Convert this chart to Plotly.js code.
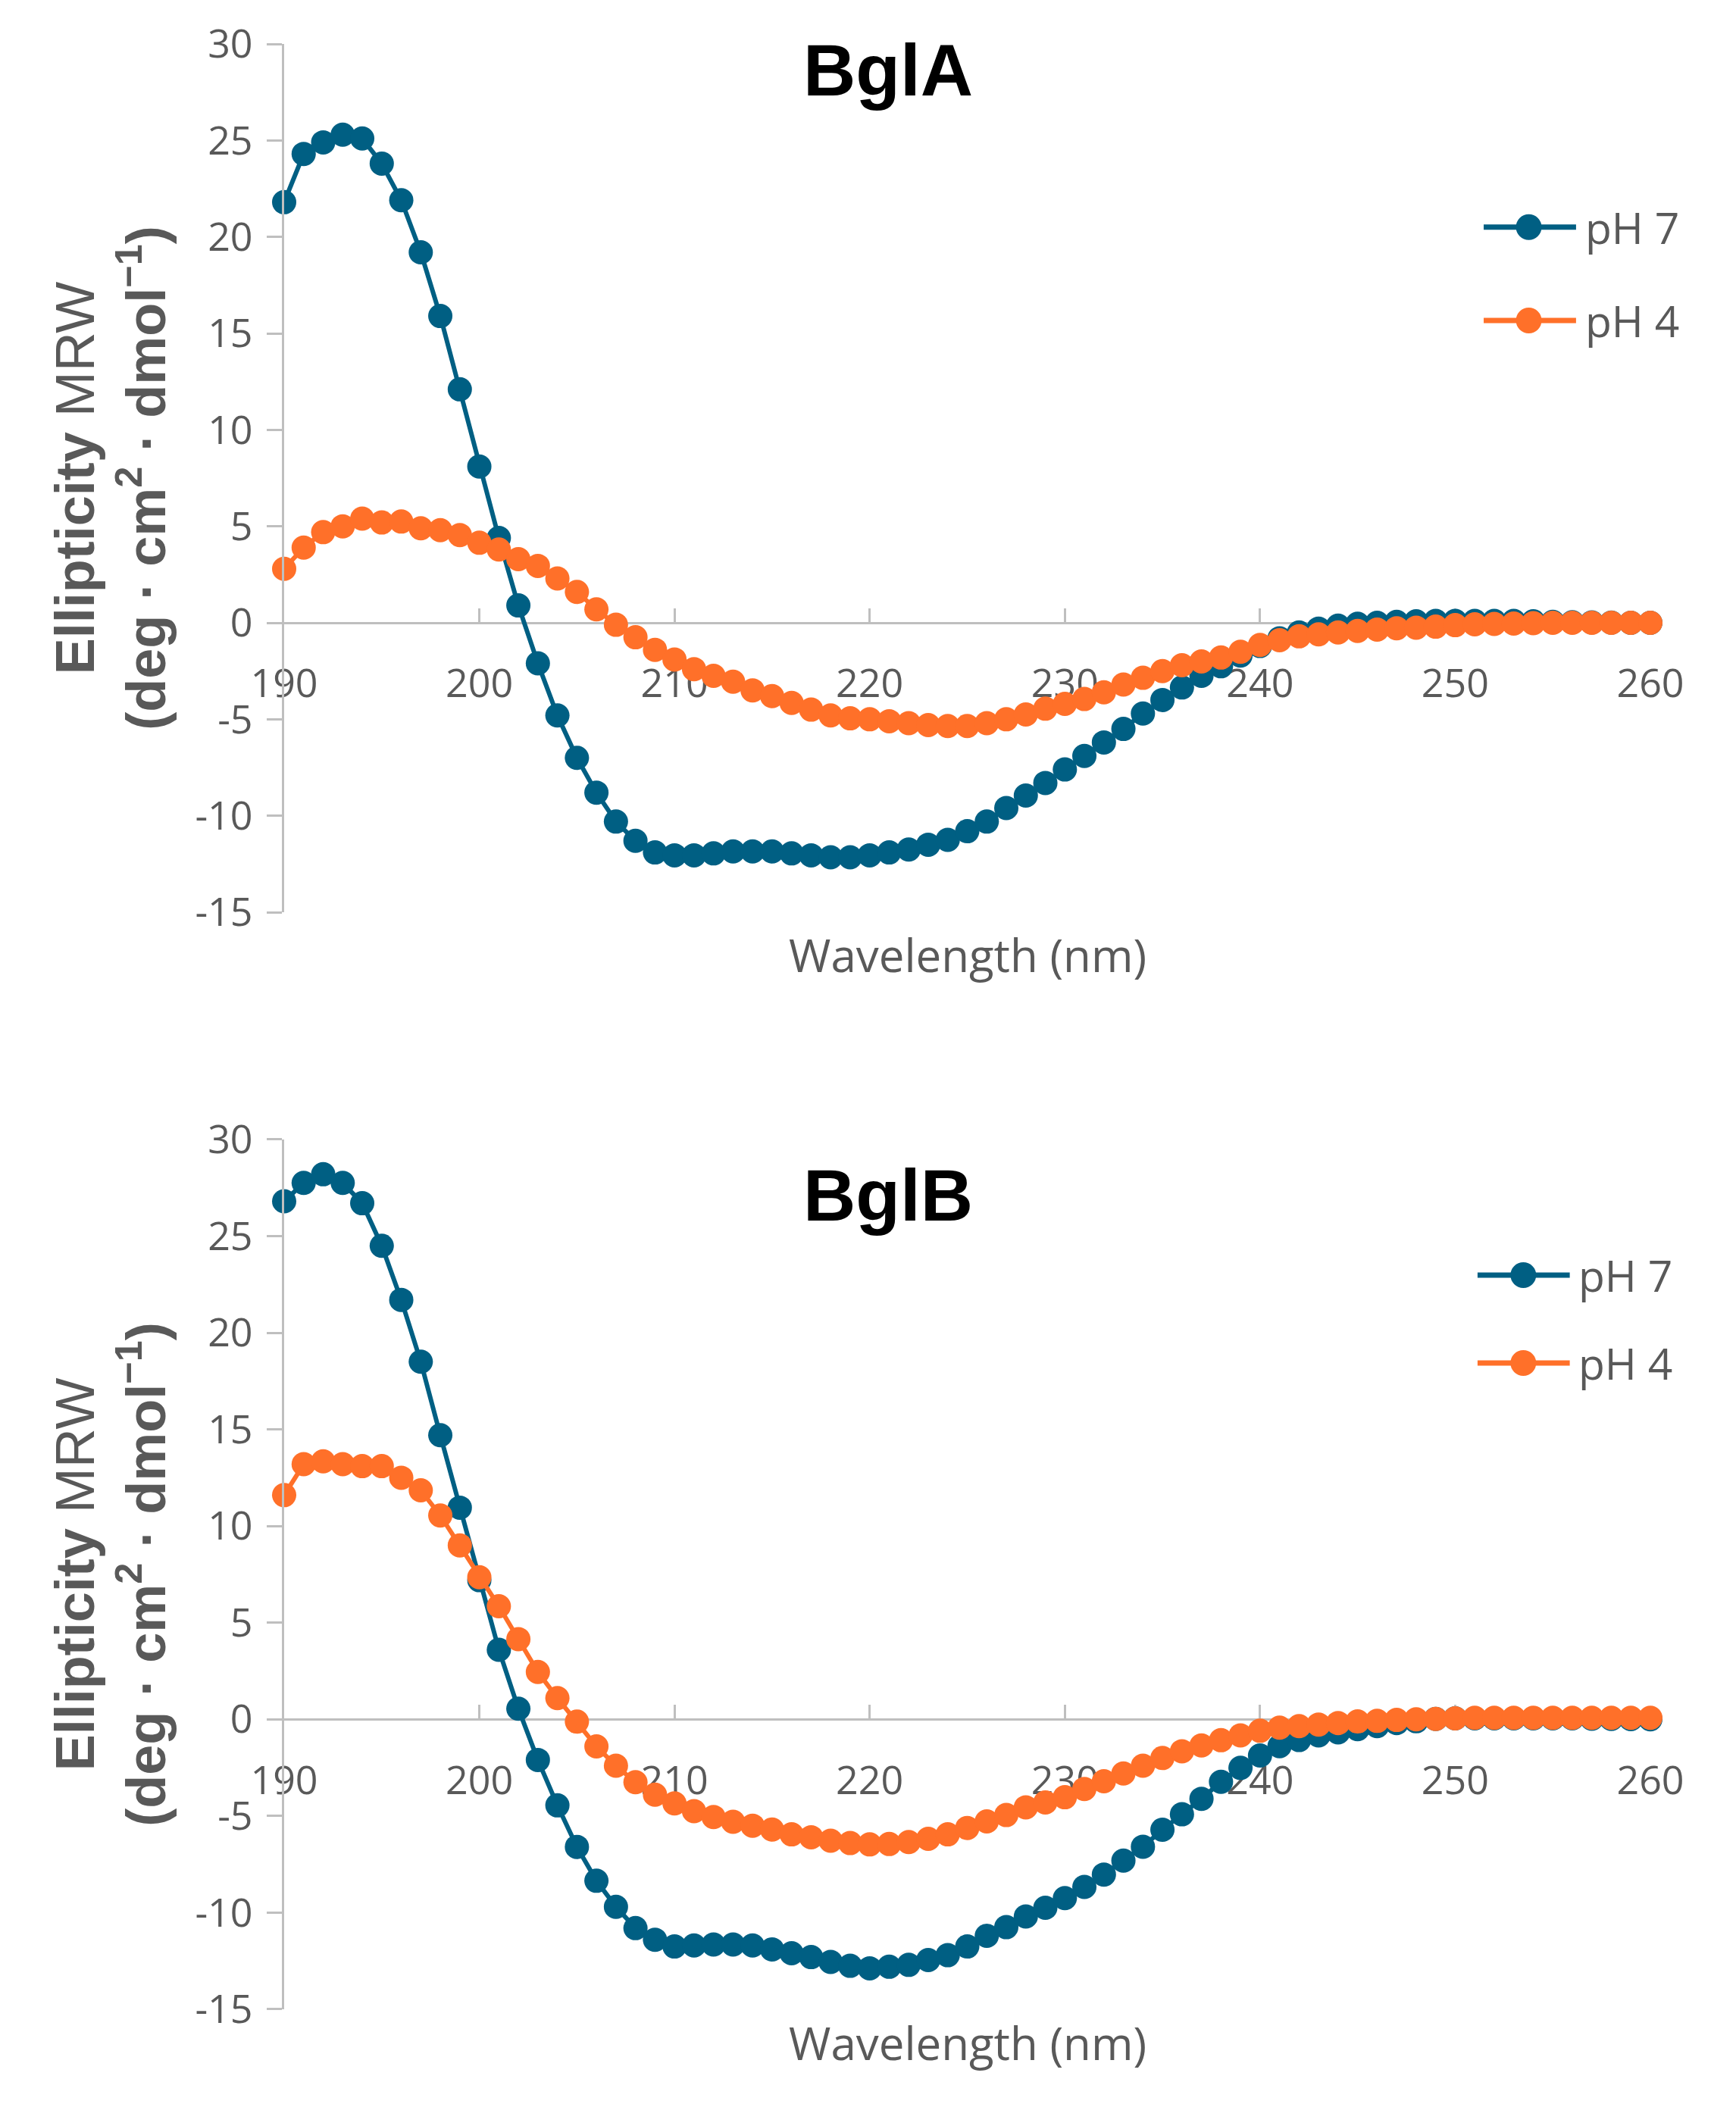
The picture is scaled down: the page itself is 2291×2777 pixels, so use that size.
<!DOCTYPE html>
<html>
<head>
<meta charset="utf-8">
<script src="https://cdn.plot.ly/plotly-3.0.1.min.js"></script>
<style>
  html, body { margin: 0; padding: 0; background: #fff; }
  #chart { width: 2291px; height: 2777px; }
</style>
</head>
<body>
<div id="chart"></div>
<script>
// wavelength in nm, one reading per nm
const wavelength = [190,191,192,193,194,195,196,197,198,199,
  200,201,202,203,204,205,206,207,208,209,
  210,211,212,213,214,215,216,217,218,219,
  220,221,222,223,224,225,226,227,228,229,
  230,231,232,233,234,235,236,237,238,239,
  240,241,242,243,244,245,246,247,248,249,
  250,251,252,253,254,255,256,257,258,259,260]

// BglA, mean residue ellipticity
const bglA_pH7 = [21.8,24.3,24.9,25.3,25.1,23.8,21.9,19.2,15.9,12.1,
  8.1,4.4,0.9,-2.1,-4.8,-7.0,-8.8,-10.3,-11.3,-11.9,
  -12.05,-12.05,-11.95,-11.85,-11.85,-11.85,-11.95,-12.05,-12.15,-12.15,
  -12.05,-11.9,-11.75,-11.5,-11.25,-10.8,-10.3,-9.6,-8.95,-8.3,
  -7.6,-6.9,-6.2,-5.5,-4.7,-4.0,-3.35,-2.75,-2.25,-1.7,
  -1.2,-0.8,-0.5,-0.3,-0.15,-0.05,0.0,0.05,0.08,0.1,
  0.1,0.1,0.1,0.1,0.08,0.05,0.03,0.02,0.01,0.0,0.0]
const bglA_pH4 = [2.8,3.9,4.7,5.0,5.4,5.2,5.25,4.9,4.8,4.55,
  4.15,3.8,3.3,2.95,2.3,1.6,0.7,-0.1,-0.75,-1.4,
  -1.9,-2.4,-2.75,-3.05,-3.5,-3.8,-4.15,-4.5,-4.8,-4.95,
  -5.0,-5.1,-5.2,-5.3,-5.35,-5.35,-5.2,-5.0,-4.75,-4.45,
  -4.2,-3.95,-3.6,-3.2,-2.85,-2.5,-2.2,-2.0,-1.8,-1.5,
  -1.15,-0.9,-0.7,-0.6,-0.5,-0.42,-0.35,-0.28,-0.25,-0.2,
  -0.12,-0.08,-0.06,-0.04,-0.02,0.0,0.0,0.0,0.0,0.0,0.0]

// BglB
const bglB_pH7 = [26.8,27.75,28.2,27.75,26.7,24.5,21.7,18.5,14.7,10.95,
  7.2,3.6,0.55,-2.1,-4.45,-6.6,-8.35,-9.7,-10.8,-11.4,
  -11.75,-11.7,-11.65,-11.65,-11.7,-11.9,-12.1,-12.3,-12.55,-12.75,
  -12.88,-12.8,-12.7,-12.45,-12.2,-11.75,-11.2,-10.75,-10.2,-9.75,
  -9.25,-8.67,-8.03,-7.31,-6.59,-5.71,-4.91,-4.11,-3.23,-2.51,
  -1.87,-1.39,-1.07,-0.83,-0.67,-0.51,-0.35,-0.19,-0.1,0.02,
  0.05,0.05,0.05,0.05,0.05,0.05,0.05,0.03,0.02,0.01,0.0]
const bglB_pH4 = [11.6,13.2,13.35,13.2,13.1,13.1,12.5,11.85,10.55,9.0,
  7.35,5.85,4.15,2.45,1.1,-0.12,-1.4,-2.4,-3.25,-3.9,
  -4.35,-4.75,-5.05,-5.3,-5.5,-5.7,-5.95,-6.1,-6.28,-6.4,
  -6.47,-6.45,-6.35,-6.18,-5.95,-5.62,-5.28,-4.95,-4.55,-4.3,
  -4.03,-3.6,-3.2,-2.8,-2.4,-2.0,-1.65,-1.35,-1.08,-0.83,
  -0.59,-0.43,-0.35,-0.27,-0.19,-0.11,-0.08,-0.03,0.0,0.02,
  0.05,0.08,0.08,0.08,0.08,0.08,0.08,0.08,0.08,0.08,0.08]

const seriesNames = ['pH 7', 'pH 4']
const seriesColors = ['#005f83', '#ff7029']
const panelTitles = ['BglA', 'BglB']
const yTickVals = [-15, -10, -5, 0, 5, 10, 15, 20, 25, 30]
const yTickText = ['-15', '-10', '-5', '0', '5', '10', '15', '20', '25', '30']

const gray = '#595959'
const axisGray = '#bfbfbf'
const yRange = [-15, 30]
const topDomain = [0.5582, 1]
const botDomain = [0, 0.4426]

// the x axis crosses at y = 0, like the original
function zeroAt(dom) {
  return dom[0] + (dom[1] - dom[0]) * (0 - yRange[0]) / (yRange[1] - yRange[0])
}

function makeTrace(y, i, xa, ya) {
  return {
    x: wavelength, y: y,
    type: 'scatter', mode: 'lines+markers',
    name: seriesNames[i], showlegend: false,
    line: {color: seriesColors[i], width: 6},
    marker: {color: seriesColors[i], size: 32},
    xaxis: xa, yaxis: ya,
    cliponaxis: false
  }
}

const data = [
  makeTrace(bglA_pH7, 0, 'x', 'y'),
  makeTrace(bglA_pH4, 1, 'x', 'y'),
  makeTrace(bglB_pH7, 0, 'x2', 'y2'),
  makeTrace(bglB_pH4, 1, 'x2', 'y2')
]

function xAxis(pos) {
  return {
    range: [190, 260], tick0: 190, dtick: 10,
    anchor: 'free', position: pos,
    showline: true, linecolor: axisGray, linewidth: 3,
    ticks: 'inside', ticklen: 18, tickwidth: 3, tickcolor: axisGray,
    showgrid: false, zeroline: false,
    tickfont: {family: 'Open Sans', size: 52, color: gray},
    ticklabelstandoff: 34,
    layer: 'below traces'
  }
}

const yTitle = '<b>Ellipticity</b> MRW<br><b>(deg · cm<sup>2</sup> · dmol<sup>−1</sup>)</b>'

function yAxis(dom, xa) {
  return {
    domain: dom, range: yRange, anchor: xa,
    tickmode: 'array', tickvals: yTickVals, ticktext: yTickText,
    showline: true, linecolor: axisGray, linewidth: 3,
    ticks: 'outside', ticklen: 20, tickwidth: 3, tickcolor: axisGray,
    showgrid: false, zeroline: false,
    tickfont: {family: 'Open Sans', size: 52, color: gray},
    ticklabelstandoff: 8,
    title: {text: yTitle, font: {family: 'Liberation Sans', size: 72, color: gray}, standoff: 16}
  }
}

// hand-made legend so the key line and dot keep the original's size
// lx: [line start, dot, line end, text] in x-domain units; ly: row centres in y-domain units
function legendParts(xd, yd, lx, ly) {
  const shapes = [], notes = []
  seriesNames.forEach(function (name, i) {
    shapes.push({type: 'line', xref: xd, yref: yd, x0: lx[0], x1: lx[2], y0: ly[i], y1: ly[i],
      line: {color: seriesColors[i], width: 7}})
    shapes.push({type: 'circle', xref: xd, yref: yd, xsizemode: 'pixel', ysizemode: 'pixel',
      xanchor: lx[1], yanchor: ly[i], x0: -17, x1: 17, y0: -17, y1: 17,
      fillcolor: seriesColors[i], line: {width: 0}})
    notes.push({text: name, xref: xd, yref: yd, x: lx[3], y: ly[i], xanchor: 'left', yanchor: 'middle',
      showarrow: false, font: {family: 'Open Sans', size: 57, color: gray}})
  })
  return {shapes: shapes, notes: notes}
}

function panelTitle(text, xref, yref, y) {
  return {
    text: '<b>' + text + '</b>', xref: xref, yref: yref,
    x: 0.442, y: y, xanchor: 'center', yanchor: 'middle', showarrow: false,
    font: {family: 'Liberation Sans', size: 96, color: '#000'}
  }
}

function xTitle(xref, yref, y) {
  return {
    text: 'Wavelength (nm)', xref: xref, yref: yref,
    x: 0.5, y: y, xanchor: 'center', yanchor: 'middle', showarrow: false,
    font: {family: 'Open Sans', size: 60, color: gray}
  }
}

const legTop = legendParts('x domain', 'y domain', [0.878, 0.911, 0.9456, 0.951], [0.789, 0.6815])
const legBot = legendParts('x2 domain', 'y2 domain', [0.8735, 0.907, 0.941, 0.946], [0.844, 0.743])

const layout = {
  width: 2291, height: 2777,
  margin: {l: 375, r: 113, t: 58, b: 125},
  paper_bgcolor: '#fff', plot_bgcolor: '#fff',
  showlegend: false,
  xaxis: xAxis(zeroAt(topDomain)),
  xaxis2: xAxis(zeroAt(botDomain)),
  yaxis: yAxis(topDomain, 'x'),
  yaxis2: yAxis(botDomain, 'x2'),
  shapes: legTop.shapes.concat(legBot.shapes),
  annotations: [
    panelTitle(panelTitles[0], 'x domain', 'y domain', 0.970),
    panelTitle(panelTitles[1], 'x2 domain', 'y2 domain', 0.936),
    xTitle('x domain', 'y domain', -0.049),
    xTitle('x2 domain', 'y2 domain', -0.038)
  ].concat(legTop.notes, legBot.notes)
}

Plotly.newPlot('chart', data, layout, {staticPlot: true})
</script>
</body>
</html>
